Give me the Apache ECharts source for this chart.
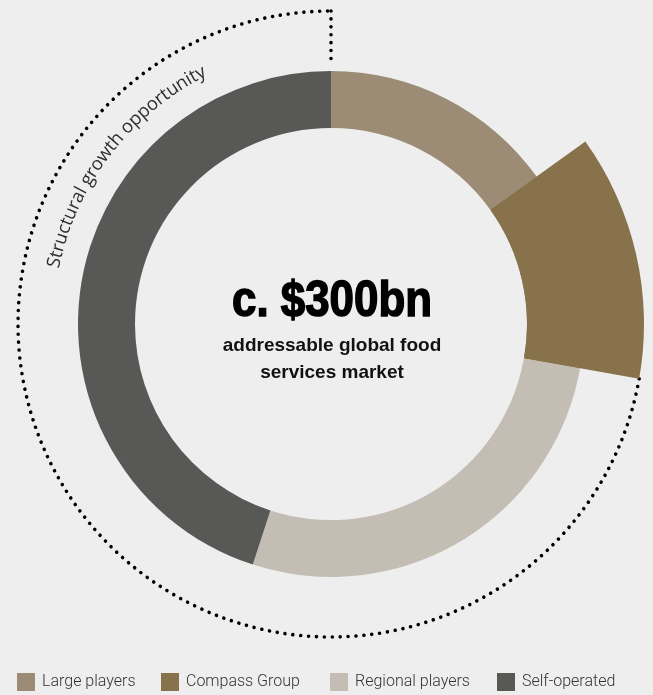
<!DOCTYPE html>
<html>
<head>
<meta charset="utf-8">
<script src="https://cdn.jsdelivr.net/npm/echarts@6/dist/echarts.min.js"></script>
<style>
html,body{margin:0;padding:0;background:#eeeeee;}
#chart{width:653px;height:695px;}
</style>
</head>
<body>
<div id="chart"></div>
<script>
// ---- data ----
const categories = ['Large players', 'Compass Group', 'Regional players', 'Self-operated'];
const shares = [15.1, 12.7, 27.2, 45.0];
const colors = ['#9c8c76', '#88724b', '#c4bdb3', '#585856'];
const centerTitle = 'c. $300bn';
const centerSub = ['addressable global food', 'services market'];
const arcLabel = 'Structural growth opportunity';
const highlightIndex = 1; // Compass Group extends outward

// ---- geometry ----
const CX = 331, CY = 324, R_IN = 196, R_OUT = 253, R_BIG = 313;

const chart = echarts.init(document.getElementById('chart'), null, {renderer: 'canvas'});

const total = shares.reduce((a, b) => a + b, 0);
let cum = 0;
for (let i = 0; i <= highlightIndex; i++) cum += shares[i];
const highlightEndDeg = 360 * cum / total; // clockwise from top

const toRad = d => d * Math.PI / 180;

const cvs = document.createElement('canvas');
const ctx = cvs.getContext('2d');
function measure(font, txt) { ctx.font = font; return ctx.measureText(txt).width; }

const graphics = [];

graphics.push({
  type: 'arc', silent: true,
  shape: {cx: CX, cy: CY, r: R_BIG, startAngle: toRad(highlightEndDeg - 90), endAngle: toRad(270), clockwise: true},
  style: {stroke: '#000', fill: 'none', lineWidth: 3.6, lineDash: [0.01, 7.9], lineCap: 'round'}
});
graphics.push({
  type: 'line', silent: true,
  shape: {x1: CX, y1: CY - R_BIG, x2: CX, y2: CY - R_OUT - 5},
  style: {stroke: '#000', lineWidth: 3.6, lineDash: [0.01, 7.9], lineCap: 'round'}
});

// curved label along the arc
const rText = 283;
const midDeg = 307.5;
const spanDeg = 52;
const family = '"Open Sans", Roboto, sans-serif';
const weight = 'normal';
const baseW = measure(weight + ' 20px ' + family, arcLabel);
const fs = 20 * (rText * toRad(spanDeg)) / baseW;
const arcFont = weight + ' ' + fs.toFixed(2) + 'px ' + family;
const chars = Array.from(arcLabel);
const widths = chars.map(ch => measure(arcFont, ch));
const totalW = widths.reduce((a, b) => a + b, 0);
let s = -totalW / 2;
chars.forEach((ch, i) => {
  const sc = s + widths[i] / 2;
  s += widths[i];
  const th = toRad(midDeg) + sc / rText;
  graphics.push({
    type: 'text', silent: true,
    x: CX + rText * Math.sin(th), y: CY - rText * Math.cos(th),
    rotation: -(th - 2 * Math.PI),
    style: {text: ch, font: arcFont, fill: '#2e2e2e', align: 'center', verticalAlign: 'middle'}
  });
});

// center title
const titleFont = 'bold 46px "Liberation Sans", Arial, sans-serif';
const tw = measure(titleFont, centerTitle);
graphics.push({
  type: 'text', silent: true, x: CX + 1, y: 302,
  scaleX: 200 / tw, scaleY: 1.08,
  style: {text: centerTitle, font: titleFont, fill: '#000', stroke: '#000', lineWidth: 1.4, align: 'center', verticalAlign: 'middle'}
});
centerSub.forEach((line, i) => {
  graphics.push({
    type: 'text', silent: true, x: CX + 1, y: 346 + i * 27,
    style: {text: line, font: 'bold 19px "Liberation Sans", Arial, sans-serif', fill: '#111', align: 'center', verticalAlign: 'middle'}
  });
});

const legendLefts = [17, 161, 330, 497];

const option = {
  backgroundColor: '#eeeeee',
  animation: false,
  legend: categories.map((c, i) => ({
    data: [{name: c, itemStyle: {color: colors[i]}}],
    left: legendLefts[i], top: 673, padding: 0,
    itemWidth: 18, itemHeight: 18, icon: 'rect', selectedMode: false,
    textStyle: {fontFamily: 'Roboto', fontWeight: 300, fontSize: 16, color: '#333', padding: [0, 0, 0, 2]}
  })),
  series: [
    {
      type: 'pie', center: [CX, CY], radius: [R_IN, R_OUT], startAngle: 90, clockwise: true,
      silent: true, label: {show: false}, labelLine: {show: false},
      data: categories.map((c, i) => ({name: c, value: shares[i], itemStyle: {color: colors[i]}}))
    },
    {
      type: 'pie', center: [CX, CY], radius: [R_IN, R_BIG], startAngle: 90, clockwise: true,
      silent: true, label: {show: false}, labelLine: {show: false}, legendHoverLink: false,
      data: categories.map((c, i) => ({name: c, value: shares[i],
        itemStyle: {color: i === highlightIndex ? colors[i] : 'rgba(0,0,0,0)'}}))
    }
  ],
  graphic: {elements: graphics}
};
chart.setOption(option);
</script>
</body>
</html>
